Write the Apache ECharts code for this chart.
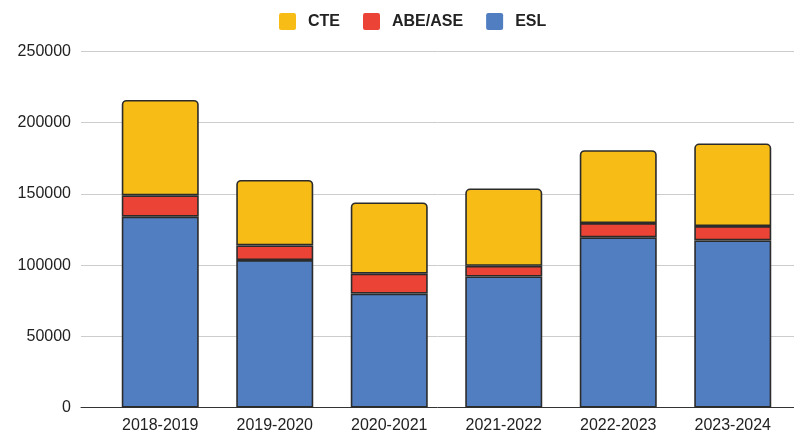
<!DOCTYPE html>
<html>
<head>
<meta charset="utf-8">
<script src="https://cdn.jsdelivr.net/npm/echarts@6/dist/echarts.min.js"></script>
<style>
html,body{margin:0;padding:0;background:#fff;}
#chart{width:794px;height:436px;}
</style>
</head>
<body>
<div id="chart"></div>
<script>
const categories = ['2018-2019', '2019-2020', '2020-2021', '2021-2022', '2022-2023', '2023-2024'];
const eslValues = [134000, 103500, 80000, 92000, 119500, 117300];
const abeValues = [15000, 10300, 14000, 7500, 10000, 10100];
const cteValues = [67000, 46000, 50000, 54300, 51200, 58000];
const yMin = 0;
const yMax = 250000;
const yInterval = 50000;

const FONT = '"Liberation Sans", Arial, sans-serif';
const chart = echarts.init(document.getElementById('chart'), null, {renderer: 'canvas'});

chart.setOption({
  backgroundColor: '#ffffff',
  animation: false,
  textStyle: {fontFamily: FONT},
  legend: {
    data: ['CTE', 'ABE/ASE', 'ESL'],
    left: 274,
    top: 8,
    itemWidth: 17,
    itemHeight: 17,
    itemGap: 23,
    icon: 'path://M2,0 L14,0 Q16,0 16,2 L16,14 Q16,16 14,16 L2,16 Q0,16 0,14 L0,2 Q0,0 2,0 Z',
    itemStyle: {borderWidth: 0},
    textStyle: {fontFamily: FONT, fontSize: 16, fontWeight: 'bold', color: '#222', padding: [0, 0, 0, 7]}
  },
  grid: [
    {left: 81, right: 0, top: 51.5, bottom: 28.5},
    {left: 103, right: 4, top: 51.5, bottom: 28.5}
  ],
  xAxis: [
    {
      gridIndex: 0, type: 'category', data: [''],
      axisLine: {show: true, lineStyle: {color: '#333', width: 1}},
      axisTick: {show: false}, axisLabel: {show: false}, splitLine: {show: false}
    },
    {
      gridIndex: 1, type: 'category', data: categories,
      axisLine: {show: false}, axisTick: {show: false},
      axisLabel: {fontFamily: FONT, fontSize: 16, color: '#222', margin: 10}
    }
  ],
  yAxis: [
    {
      gridIndex: 0, type: 'value', min: yMin, max: yMax, interval: yInterval,
      axisLine: {show: false}, axisTick: {show: false},
      axisLabel: {fontFamily: FONT, fontSize: 16, color: '#222', margin: 10, formatter: (v) => String(v)},
      splitLine: {show: true, lineStyle: {color: '#cccccc', width: 1}}
    },
    {
      gridIndex: 1, type: 'value', min: yMin, max: yMax, interval: yInterval,
      show: false, splitLine: {show: false}
    }
  ],
  series: [
    {
      name: 'ESL', type: 'bar', stack: 'total', xAxisIndex: 1, yAxisIndex: 1,
      barWidth: 77, data: eslValues,
      itemStyle: {color: '#507EC0', borderColor: '#2b2b2b', borderWidth: 1.6}
    },
    {
      name: 'ABE/ASE', type: 'bar', stack: 'total', xAxisIndex: 1, yAxisIndex: 1,
      barWidth: 77, data: abeValues,
      itemStyle: {color: '#EB4335', borderColor: '#2b2b2b', borderWidth: 1.6}
    },
    {
      name: 'CTE', type: 'bar', stack: 'total', xAxisIndex: 1, yAxisIndex: 1,
      barWidth: 77, data: cteValues,
      itemStyle: {color: '#F8BC16', borderColor: '#2b2b2b', borderWidth: 1.6, borderRadius: [4, 4, 0, 0]}
    }
  ]
});
</script>
</body>
</html>
